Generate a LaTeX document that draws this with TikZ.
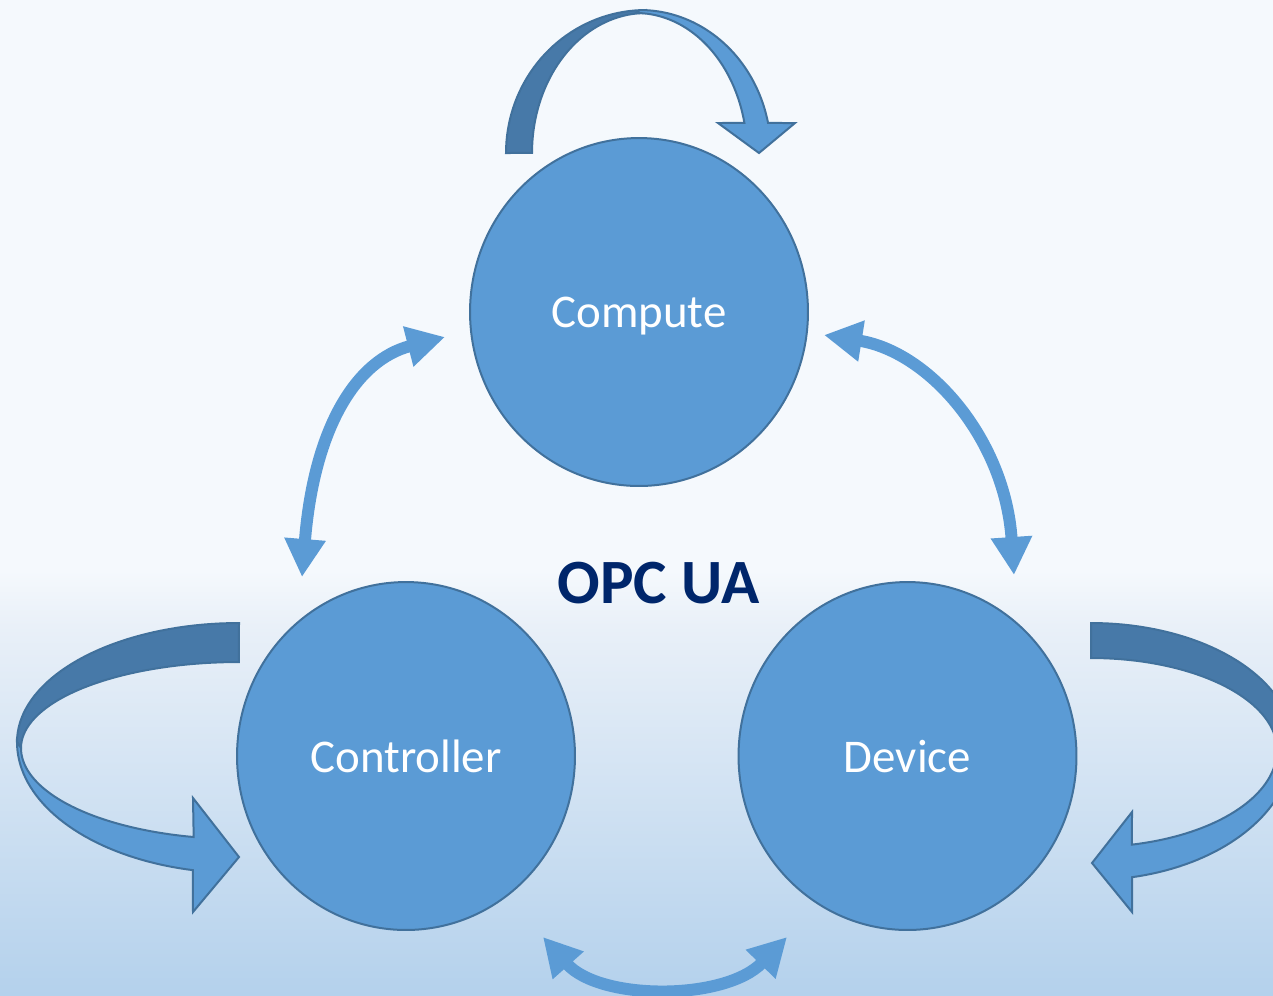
\documentclass[tikz,border=0pt]{standalone}
\usepackage{fontspec}
\setmainfont{Carlito}
\usetikzlibrary{arrows.meta,shapes.geometric}
\definecolor{front}{RGB}{91,155,213}
\definecolor{back}{RGB}{71,121,168}
\definecolor{edge}{RGB}{65,113,156}
\definecolor{navy}{RGB}{0,38,107}
\definecolor{bgA}{RGB}{245,249,253}
\definecolor{bgB}{RGB}{233,240,248}
\definecolor{bgC}{RGB}{180,209,236}
\begin{document}
\begin{tikzpicture}[x=0.02cm,y=-0.02cm,
  bubble/.style={ellipse, draw=edge, line width=0.04cm, fill=front,
    minimum width=6.76cm, minimum height=6.96cm, inner sep=0pt,
    text=white, text depth=0pt, font=\fontsize{26.7}{32}\selectfont},
  title/.style={text=navy, font=\fontsize{35.9}{42}\selectfont\bfseries},
  frontface/.style={fill=front, draw=edge, line width=0.04cm, line join=miter},
  backface/.style={fill=back, draw=edge, line width=0.04cm},
  twoway/.style={draw=front, line width=0.24cm,
    {Triangle[length=0.76cm,width=0.78cm]}-{Triangle[length=0.76cm,width=0.78cm]}},
]
\useasboundingbox (0,0) rectangle (1273,995);
\clip (0,0) rectangle (1273,995);
% background
\fill[bgA] (0,0) rectangle (1273,571);
\shade[top color=bgA, bottom color=bgB] (0,570) rectangle (1273,626);
\shade[top color=bgB, bottom color=bgC] (0,625) rectangle (1273,995);

% nodes
\node[bubble] (compute) at (639,312) {Compute};
\node[bubble] (controller) at (406,756) {Controller};
\node[bubble] (device) at (907.5,756) {Device};
\node[title] (opc) at (658.5,583) {OPC UA};

% top self arrow (ribbon)
\filldraw[backface]
  plot[domain=0:1,samples=40] ({646+140*cos(180+90*\x)},{153+143*sin(180+90*\x)})
  -- plot[domain=0:1,samples=40] ({646+114*cos(270-90*\x)},{153+140*sin(270-90*\x)})
  -- cycle;
\filldraw[frontface]
  plot[domain=0:1,samples=40] ({640+131*cos(270+77.9*\x)},{153+143*sin(270+77.9*\x)})
  -- (795,123) -- (759,153) -- (718,123)
  -- plot[domain=0:1,samples=40] ({636+111*cos(347.6-77.6*\x)},{153+140*sin(347.6-77.6*\x)})
  -- cycle;

% left self arrow (ribbon)
\filldraw[backface]
  plot[domain=0:1,samples=40] ({239+222*cos(270-90*\x)},{742+119*sin(270-90*\x)})
  -- plot[domain=0:1,samples=40] ({239+218*cos(180+90*\x)},{748+86*sin(180+90*\x)})
  -- cycle;
\filldraw[frontface]
  plot[domain=0:1,samples=40] ({239+222*cos(180-78*\x)},{742+131*sin(180-78*\x)})
  -- (193,912) -- (239,857) -- (193,798)
  -- plot[domain=0:1,samples=40] ({239+218*cos(102+78*\x)},{748+91*sin(102+78*\x)})
  -- cycle;

% right self arrow (ribbon)
\filldraw[backface]
  plot[domain=0:1,samples=40] ({1091+202*cos(270+90*\x)},{745+122*sin(270+90*\x)})
  -- plot[domain=0:1,samples=40] ({1091+186*cos(360-90*\x)},{750+92*sin(360-90*\x)})
  -- cycle;
\filldraw[frontface]
  plot[domain=0:1,samples=40] ({1091+202*cos(78.3*\x)},{745+135*sin(78.3*\x)})
  -- (1132,912) -- (1092,863) -- (1132,812)
  -- plot[domain=0:1,samples=40] ({1091+186*cos(77.3-77.3*\x)},{750+97*sin(77.3-77.3*\x)})
  -- cycle;

% two-way connectors
\coordinate (ctlA) at (302,577);
\coordinate (ctlB) at (445,337);
\coordinate (cdA) at (824,335);
\coordinate (cdB) at (1014,575);
\coordinate (bdA) at (543,937);
\coordinate (bdB) at (787,937);
\draw[twoway] (ctlA) .. controls (314,428) and (356,360) .. (ctlB);
\draw[twoway] (cdA) .. controls (930,352) and (1005,440) .. (cdB);
\draw[twoway] (bdA) .. controls (600,1001) and (725,1001) .. (bdB);
\end{tikzpicture}
\end{document}
